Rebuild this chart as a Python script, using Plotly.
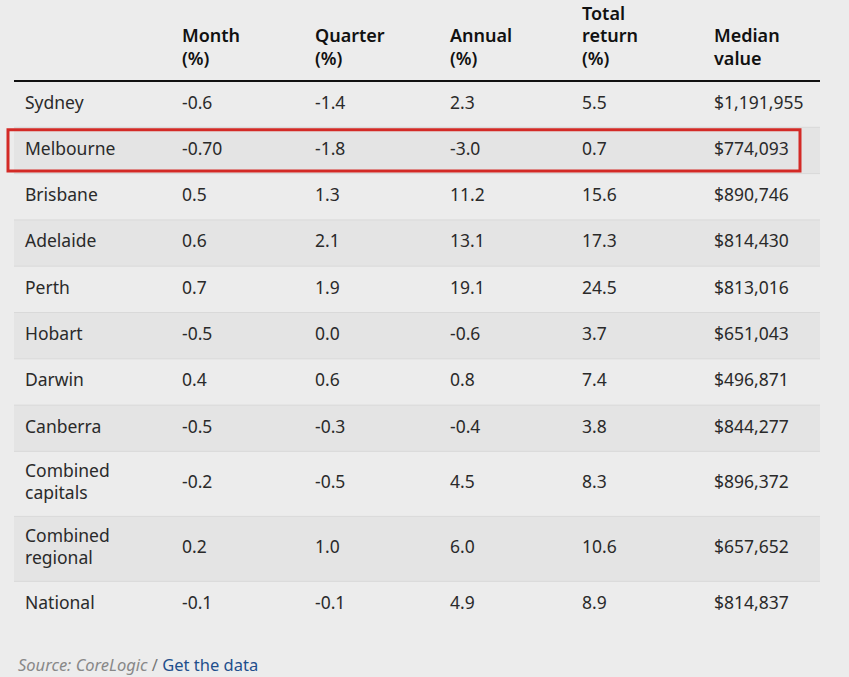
import plotly.graph_objects as go

# ---- data ----
regions = ["Sydney", "Melbourne", "Brisbane", "Adelaide", "Perth", "Hobart",
           "Darwin", "Canberra", "Combined\ncapitals", "Combined\nregional", "National"]
month = ["-0.6", "-0.70", "0.5", "0.6", "0.7", "-0.5", "0.4", "-0.5", "-0.2", "0.2", "-0.1"]
quarter = ["-1.4", "-1.8", "1.3", "2.1", "1.9", "0.0", "0.6", "-0.3", "-0.5", "1.0", "-0.1"]
annual = ["2.3", "-3.0", "11.2", "13.1", "19.1", "-0.6", "0.8", "-0.4", "4.5", "6.0", "4.9"]
total_return = ["5.5", "0.7", "15.6", "17.3", "24.5", "3.7", "7.4", "3.8", "8.3", "10.6", "8.9"]
median_value = ["$1,191,955", "$774,093", "$890,746", "$814,430", "$813,016", "$651,043",
                "$496,871", "$844,277", "$896,372", "$657,652", "$814,837"]
headers = ["", "Month\n(%)", "Quarter\n(%)", "Annual\n(%)", "Total\nreturn\n(%)", "Median\nvalue"]
highlight = "Melbourne"
source_text = "Source: CoreLogic"
link_text = "Get the data"

# ---- layout styles ----
W, H = 849, 677
BG = "#ececec"
ALT = "#e4e4e4"
SEP = "#d9d9d9"
FONT = "Noto Sans"
col_x = [25, 182, 315, 450, 582, 714]
table_left, table_right = 14, 820
header_line_y = 81
single_h = 46.3
double_h = 65
line_gap = 22
header_gap = 22.5
header_last_line_y = 60

columns = [regions, month, quarter, annual, total_return, median_value]

fig = go.Figure()
shapes = []

# rows
tops = []
y = header_line_y
for r in regions:
    h = double_h if "\n" in r else single_h
    tops.append((y, h))
    y += h

for i, (top, h) in enumerate(tops):
    if i % 2 == 1:
        shapes.append(dict(type="rect", x0=table_left, x1=table_right, y0=top, y1=top + h,
                           fillcolor=ALT, line=dict(width=0), layer="below"))
    if i > 0:
        shapes.append(dict(type="line", x0=table_left, x1=table_right, y0=top, y1=top,
                           line=dict(color=SEP, width=1), layer="below"))

# cell text
for c, col in enumerate(columns):
    xs, ys, ts = [], [], []
    for i, val in enumerate(col):
        top, h = tops[i]
        lines = val.split("\n")
        n = len(lines)
        center = top + h / 2
        for k, ln in enumerate(lines):
            xs.append(col_x[c])
            ys.append(center + (k - (n - 1) / 2) * line_gap)
            ts.append(ln)
    fig.add_trace(go.Scatter(x=xs, y=ys, text=ts, mode="text", textposition="middle right",
                             textfont=dict(family=FONT, size=17.5, color="#2a2a2a"),
                             hoverinfo="skip", showlegend=False))

# header text (bottom aligned)
hx, hy, ht = [], [], []
for c, hd in enumerate(headers):
    if not hd:
        continue
    lines = hd.split("\n")
    n = len(lines)
    for k, ln in enumerate(lines):
        hx.append(col_x[c])
        hy.append(header_last_line_y - (n - 1 - k) * header_gap)
        ht.append(ln)
fig.add_trace(go.Scatter(x=hx, y=hy, text=ht, mode="text", textposition="middle right",
                         textfont=dict(family=FONT, size=18, color="#111111", weight=600),
                         hoverinfo="skip", showlegend=False))

# header rule
shapes.append(dict(type="line", x0=table_left, x1=table_right, y0=header_line_y, y1=header_line_y,
                   line=dict(color="#111111", width=2)))

# highlight box
hi = regions.index(highlight)
top, h = tops[hi]
shapes.append(dict(type="rect", x0=8, x1=800, y0=top + 2.5, y1=top + h - 2.5,
                   line=dict(color="#d32a26", width=3), fillcolor="rgba(0,0,0,0)"))

fig.add_annotation(x=16, y=664, xref="x", yref="y", xanchor="left", yanchor="middle",
                   showarrow=False,
                   text=f"<i>{source_text}</i> <span style='color:#777'>/</span> "
                        f"<span style='color:#1f4f8c'>{link_text}</span>",
                   font=dict(family=FONT, size=16.5, color="#888888"))

fig.update_layout(
    width=W, height=H, margin=dict(l=0, r=0, t=0, b=0),
    paper_bgcolor=BG, plot_bgcolor=BG, shapes=shapes,
    xaxis=dict(range=[0, W], visible=False, fixedrange=True),
    yaxis=dict(range=[H, 0], visible=False, fixedrange=True),
)

fig.write_html("out.html", config={"displayModeBar": False},
               post_script="document.body.style.margin='0';document.body.style.overflow='hidden';"
                           "document.body.style.background='" + BG + "';")
